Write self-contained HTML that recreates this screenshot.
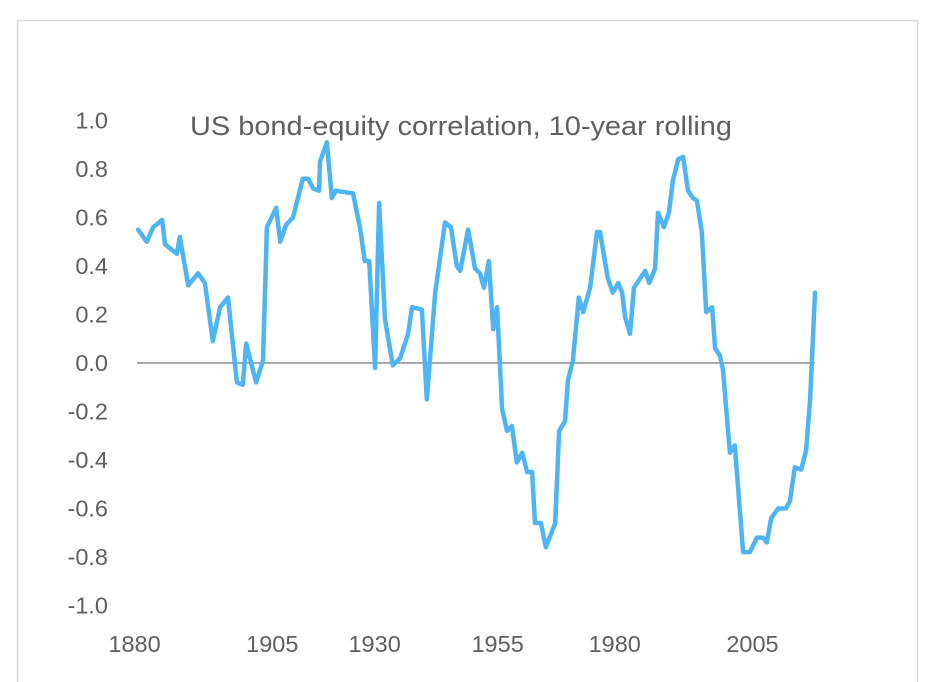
<!DOCTYPE html>
<html><head><meta charset="utf-8"><style>
html,body{margin:0;padding:0;background:#fff;overflow:hidden;}
svg{display:block;font-family:"Liberation Sans",sans-serif;}
</style></head><body>
<svg width="934" height="682">
<rect x="17.5" y="20.5" width="900" height="670" fill="#fff" stroke="#d9d9d9" stroke-width="1.5"/>
<text x="190" y="135" font-size="26.5" textLength="542" lengthAdjust="spacingAndGlyphs" fill="#5f5f5f">US bond-equity correlation, 10-year rolling</text>
<g id="yticks"></g>
<g id="xticks"></g>
<line id="zero" stroke="#8c8c8c" stroke-width="1.5"/>
<path id="line" fill="none" stroke="#4fb5f2" stroke-width="4.5" stroke-linejoin="round" stroke-linecap="round"/>
</svg>
<script>
const years=[1880.2,1882.0,1883.3,1885.1,1885.7,1888.1,1888.7,1890.4,1892.4,1893.8,1895.4,1896.9,1898.5,1900.3,1901.5,1902.2,1904.2,1905.6,1906.4,1908.3,1909.1,1910.3,1911.7,1913.7,1914.8,1915.8,1917.0,1917.2,1918.6,1919.6,1920.4,1923.9,1925.3,1926.3,1927.2,1928.4,1929.2,1930.4,1932.0,1933.5,1935.1,1935.9,1937.9,1938.9,1940.6,1942.6,1943.8,1945.0,1945.7,1947.3,1948.7,1949.7,1950.5,1951.5,1952.4,1953.2,1954.2,1955.2,1956.2,1957.2,1958.3,1959.3,1960.3,1960.9,1962.1,1963.1,1965.0,1965.8,1967.0,1967.6,1968.6,1969.8,1970.7,1972.1,1973.5,1974.1,1975.7,1976.7,1977.8,1978.6,1979.2,1980.2,1981.0,1983.3,1984.1,1985.3,1985.9,1987.1,1988.1,1988.9,1990.0,1991.0,1992.0,1993.0,1993.8,1994.8,1995.7,1996.9,1997.5,1998.5,1999.1,2000.5,2001.5,2003.2,2004.6,2006.0,2007.2,2008.0,2008.9,2010.3,2011.9,2012.7,2013.7,2015.0,2016.0,2016.8,2017.8];
const values=[0.55,0.50,0.56,0.59,0.49,0.45,0.52,0.32,0.37,0.33,0.09,0.23,0.27,-0.08,-0.09,0.08,-0.08,0.01,0.56,0.64,0.50,0.57,0.60,0.76,0.76,0.72,0.71,0.83,0.91,0.68,0.71,0.70,0.56,0.42,0.42,-0.02,0.66,0.18,-0.01,0.02,0.12,0.23,0.22,-0.15,0.29,0.58,0.56,0.40,0.38,0.55,0.39,0.37,0.31,0.42,0.14,0.23,-0.19,-0.28,-0.26,-0.41,-0.37,-0.45,-0.45,-0.66,-0.66,-0.76,-0.66,-0.28,-0.24,-0.07,0.01,0.27,0.21,0.31,0.54,0.54,0.35,0.29,0.33,0.29,0.19,0.12,0.31,0.38,0.33,0.39,0.62,0.56,0.62,0.75,0.84,0.85,0.71,0.68,0.67,0.54,0.21,0.23,0.06,0.03,-0.03,-0.37,-0.34,-0.78,-0.78,-0.72,-0.72,-0.74,-0.64,-0.60,-0.60,-0.57,-0.43,-0.44,-0.36,-0.15,0.29];
const yTicks=[1.0,0.8,0.6,0.4,0.2,0.0,-0.2,-0.4,-0.6,-0.8,-1.0];
const xTickLabels=["1880","1905","1930","1955","1980","2005"];
const xTickPos=[1879.5,1907.5,1928.3,1953.3,1977.1,2005.1];
const NS="http://www.w3.org/2000/svg";
const X=y=>137+(y-1880)*4.92;
const Y=v=>363-v*242.5;
const yg=document.getElementById('yticks');
yTicks.forEach(t=>{const e=document.createElementNS(NS,'text');
e.setAttribute('x',108);e.setAttribute('y',Y(t)+8);e.setAttribute('text-anchor','end');
e.setAttribute('font-size','23.5');e.setAttribute('fill','#5f5f5f');


e.textContent=t.toFixed(1);yg.appendChild(e);});
const xg=document.getElementById('xticks');
xTickLabels.forEach((l,i)=>{const e=document.createElementNS(NS,'text');
e.setAttribute('x',X(xTickPos[i]));e.setAttribute('y',652);e.setAttribute('text-anchor','middle');
e.setAttribute('font-size','23.5');e.setAttribute('fill','#5f5f5f');


e.textContent=l;xg.appendChild(e);});
const z=document.getElementById('zero');
z.setAttribute('x1',X(1880));z.setAttribute('x2',X(2017.8));z.setAttribute('y1',Y(0));z.setAttribute('y2',Y(0));
document.getElementById('line').setAttribute('d',years.map((y,i)=>(i?'L':'M')+X(y).toFixed(1)+' '+Y(values[i]).toFixed(1)).join(' '));
</script>
</body></html>
